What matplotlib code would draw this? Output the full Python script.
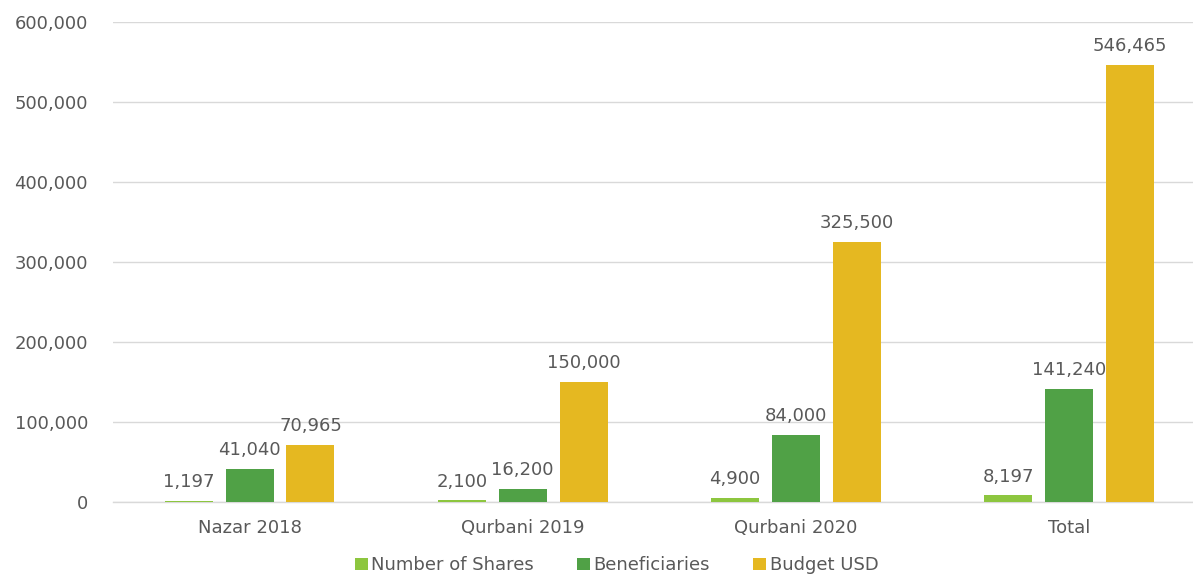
import numpy as np
import matplotlib.pyplot as plt
from matplotlib.ticker import FuncFormatter

categories = ["Nazar 2018", "Qurbani 2019", "Qurbani 2020", "Total"]
shares = [1197, 2100, 4900, 8197]
beneficiaries = [41040, 16200, 84000, 141240]
budget = [70965, 150000, 325500, 546465]
series_names = ["Number of Shares", "Beneficiaries", "Budget USD"]
colors = ["#8DC63F", "#50A146", "#E5B821"]

plt.rcParams['font.family'] = ['DejaVu Sans']
txt = "#595959"
fs = 13

fig = plt.figure(figsize=(11.93, 5.78), dpi=100)
ax = fig.add_axes([0.0947, 0.1315, 0.9053, 0.8305])

x = np.arange(len(categories))
w = 0.176
step = 0.223
for i, (vals, name, c) in enumerate(zip([shares, beneficiaries, budget], series_names, colors)):
    bars = ax.bar(x + (i - 1) * step, vals, width=w, color=c, label=name, zorder=3)
    for b, v in zip(bars, vals):
        ax.annotate(f"{v:,}", (b.get_x() + b.get_width() / 2, v),
                    xytext=(0, 7), textcoords="offset points",
                    ha="center", va="bottom", fontsize=fs, color=txt)

ax.set_xlim(-0.5, 3.454)
ax.set_ylim(0, 600000)
ax.set_yticks(np.arange(0, 600001, 100000))
ax.yaxis.set_major_formatter(FuncFormatter(lambda v, p: f"{int(v):,}"))
ax.set_xticks(x)
ax.set_xticklabels(categories)
ax.tick_params(axis="both", length=0, labelsize=fs, labelcolor=txt)
ax.tick_params(axis="x", pad=12)
ax.tick_params(axis="y", pad=18)
ax.grid(axis="y", color="#D9D9D9", linewidth=1, zorder=0)
ax.axhline(0, color="#D9D9D9", linewidth=1, zorder=1, clip_on=False)
for s in ax.spines.values():
    s.set_visible(False)

fig.legend(*ax.get_legend_handles_labels(), loc="center", bbox_to_anchor=(0.517, 0.022),
           ncol=3, frameon=False, fontsize=fs, labelcolor=txt, handlelength=0.7,
           handleheight=0.7, handletextpad=0.2, columnspacing=2.4, borderaxespad=0)

fig.savefig("out.png", dpi=100)
